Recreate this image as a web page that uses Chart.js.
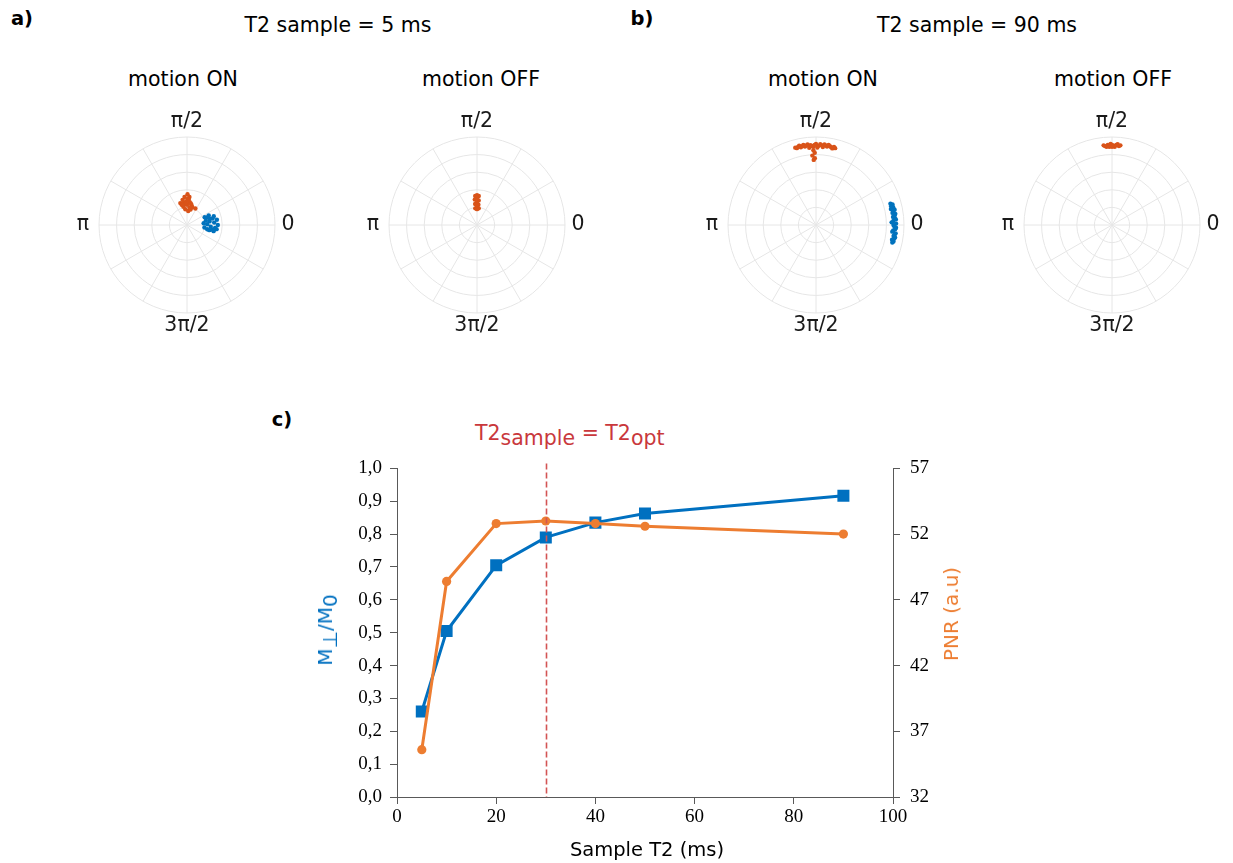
<!DOCTYPE html>
<html>
<head>
<meta charset="utf-8">
<script src="https://cdn.jsdelivr.net/npm/chart.js@4.4.1/dist/chart.umd.min.js"></script>
<style>
  body { margin: 0; width: 1233px; height: 863px; background: #fff; position: relative; overflow: hidden;
         font-family: "DejaVu Sans", sans-serif; color: #000; }
  .t { position: absolute; white-space: nowrap; font-size: 20.5px; line-height: 1; transform: translate(-50%, -50%); }
  .bold { font-weight: bold; font-size: 19.5px; }
  .rot { transform: translate(-50%, -50%) rotate(-90deg); }
  .sub { position: relative; top: 4.5px; }
  canvas { position: absolute; }
</style>
</head>
<body>

<div class="t bold" style="left:22px;top:19px">a)</div>
<div class="t" style="left:338px;top:25px">T2 sample = 5 ms</div>
<div class="t bold" style="left:642px;top:19px">b)</div>
<div class="t" style="left:977px;top:25px">T2 sample = 90 ms</div>

<div class="t" style="left:183px;top:79px">motion ON</div>
<div class="t" style="left:481px;top:79px">motion OFF</div>
<div class="t" style="left:823px;top:79px">motion ON</div>
<div class="t" style="left:1113px;top:79px">motion OFF</div>

<canvas id="polarA1" width="260" height="260" style="left:57px;top:95px"></canvas>
<canvas id="polarA2" width="260" height="260" style="left:347px;top:95px"></canvas>
<canvas id="polarB1" width="260" height="260" style="left:686px;top:95px"></canvas>
<canvas id="polarB2" width="260" height="260" style="left:982px;top:95px"></canvas>

<div class="t bold" style="left:282px;top:420px">c)</div>
<div style="position:absolute;left:475px;top:423px;font-size:20.5px;line-height:1;color:#c9383c;white-space:nowrap">T2<span class="sub">sample</span> = T2<span class="sub">opt</span></div>

<canvas id="mainChart" width="630" height="416" style="left:330px;top:447px"></canvas>

<div class="t rot" style="left:325px;top:630px;color:#0070C0;font-size:20px">M<span class="sub">⊥</span>/M<span class="sub">0</span></div>
<div class="t rot" style="left:951px;top:614px;color:#ED7D31;font-size:20px">PNR (a.u)</div>
<div class="t" style="left:647px;top:850px;font-size:19.5px">Sample T2 (ms)</div>

<script>
// ---- polar panels: [phase in degrees, magnitude M/M0] ----
const aOnOrange = [[89, 0.35], [95, 0.32], [85, 0.32], [100, 0.29], [86, 0.29], [107, 0.26], [99, 0.26],
  [83, 0.26], [105, 0.24], [90, 0.23], [77, 0.23], [63, 0.21], [73, 0.21], [85, 0.16], [96, 0.18],
  [77, 0.18], [101, 0.21], [92, 0.27], [80, 0.25], [88, 0.3], [94, 0.24], [103, 0.23], [82, 0.2]];
const aOnBlue = [[24, 0.22], [24, 0.27], [18, 0.32], [10, 0.345], [0, 0.35], [-8, 0.34], [-13, 0.31],
  [-13, 0.26], [-8, 0.2], [6, 0.19], [13, 0.22], [9, 0.26], [-4, 0.27], [5, 0.31], [14, 0.3], [-12, 0.235],
  [20, 0.25], [-10, 0.29], [2, 0.23], [16, 0.27], [-6, 0.32]];
const aOffOrange = [[90, 0.34], [93.5, 0.33], [86.5, 0.33], [90, 0.31], [95, 0.29], [86, 0.28], [90, 0.26],
  [95, 0.24], [86, 0.23], [90, 0.21], [96, 0.19], [84, 0.19], [90, 0.18]];
const aOffBlue = [];
const bOnOrange = [[104, 0.9], [102, 0.92], [100, 0.91], [98, 0.9], [96, 0.92], [94, 0.91], [92, 0.89],
  [90, 0.92], [88, 0.9], [86, 0.91], [84, 0.92], [82, 0.9], [80, 0.91], [78, 0.89], [76, 0.9], [95, 0.88],
  [89, 0.88], [85, 0.89], [92, 0.85], [91, 0.82], [93, 0.79], [91, 0.76], [92, 0.74],
  [103, 0.91], [101, 0.9], [99, 0.92], [97, 0.91], [93, 0.9], [91, 0.91], [87, 0.92], [83, 0.91],
  [81, 0.92], [79, 0.9], [77, 0.91], [105, 0.91]];
const bOnBlue = [[16, 0.88], [13, 0.9], [10, 0.89], [8, 0.91], [5, 0.9], [3, 0.88], [1, 0.91], [-1, 0.89],
  [-3, 0.9], [-6, 0.91], [-8, 0.89], [-10, 0.9], [-12, 0.9], [2, 0.86], [-5, 0.87], [12, 0.87],
  [15, 0.9], [14, 0.88], [11, 0.91], [9, 0.88], [7, 0.9], [6, 0.88], [4, 0.91], [0, 0.88], [-2, 0.91],
  [-4, 0.88], [-7, 0.9], [-9, 0.91], [-11, 0.88], [-13, 0.89]];
const bOffOrange = [[95, 0.9], [93, 0.91], [91, 0.92], [89, 0.9], [87, 0.91], [85, 0.9], [92, 0.89],
  [88, 0.89], [90, 0.91], [94, 0.89], [86, 0.92], [96, 0.91], [84, 0.91], [90, 0.89]];
const bOffBlue = [];

const polarRings = [0.2, 0.4, 0.6, 0.8, 1.0];
const polarSpokes = [0, 30, 60, 90, 120, 150, 180, 210, 240, 270, 300, 330];

// ---- panel c ----
const sampleT2 = [5, 10, 20, 30, 40, 50, 90];
const mRatio = [0.26, 0.505, 0.705, 0.79, 0.835, 0.863, 0.917];
const pnr = [35.6, 48.4, 52.8, 53.0, 52.8, 52.6, 52.0];
const t2Opt = 30;

const toXY = pts => pts.map(([deg, r]) => ({
  x: r * Math.cos(deg * Math.PI / 180),
  y: r * Math.sin(deg * Math.PI / 180)
}));

const polarGrid = {
  id: 'polarGrid',
  beforeDatasetsDraw(chart) {
    const { ctx, scales: { x, y } } = chart;
    const cx = x.getPixelForValue(0), cy = y.getPixelForValue(0);
    ctx.save();
    ctx.strokeStyle = '#e6e6e6';
    ctx.lineWidth = 1;
    polarRings.forEach(r => {
      ctx.beginPath();
      ctx.arc(cx, cy, x.getPixelForValue(r) - cx, 0, Math.PI * 2);
      ctx.stroke();
    });
    polarSpokes.forEach(a => {
      const t = a * Math.PI / 180;
      ctx.beginPath();
      ctx.moveTo(cx, cy);
      ctx.lineTo(x.getPixelForValue(Math.cos(t)), y.getPixelForValue(Math.sin(t)));
      ctx.stroke();
    });
    const R = x.getPixelForValue(1) - cx;
    ctx.fillStyle = '#1a1a1a';
    ctx.font = '20.5px "DejaVu Sans"';
    ctx.textAlign = 'center';
    ctx.textBaseline = 'middle';
    ctx.fillText('0', cx + R + 13, cy);
    ctx.fillText('π/2', cx, cy - R - 15);
    ctx.fillText('π', cx - R - 16, cy);
    ctx.fillText('3π/2', cx, cy + R + 13);
    ctx.restore();
  }
};

const makePolar = (id, blue, orange) => new Chart(document.getElementById(id), {
  type: 'scatter',
  data: {
    datasets: [
      { data: toXY(orange), backgroundColor: '#D95319', borderWidth: 0, pointRadius: 2.2 },
      { data: toXY(blue), backgroundColor: '#0072BD', borderWidth: 0, pointRadius: 2.2 }
    ]
  },
  options: {
    responsive: false,
    animation: false,
    layout: { padding: 42 },
    scales: {
      x: { type: 'linear', min: -1, max: 1, display: false },
      y: { type: 'linear', min: -1, max: 1, display: false }
    },
    plugins: { legend: { display: false }, tooltip: { enabled: false } }
  },
  plugins: [polarGrid]
});

makePolar('polarA1', aOnBlue, aOnOrange);
makePolar('polarA2', aOffBlue, aOffOrange);
makePolar('polarB1', bOnBlue, bOnOrange);
makePolar('polarB2', bOffBlue, bOffOrange);

// dashed marker at the optimal T2
const optLine = {
  id: 'optLine',
  afterDatasetsDraw(chart) {
    const { ctx, chartArea, scales: { x } } = chart;
    const px = Math.round(x.getPixelForValue(t2Opt)) + 0.5;
    ctx.save();
    ctx.strokeStyle = '#d35454';
    ctx.lineWidth = 1.6;
    ctx.setLineDash([6, 3]);
    ctx.beginPath();
    ctx.moveTo(px, chartArea.top - 5);
    ctx.lineTo(px, chartArea.bottom);
    ctx.stroke();
    ctx.restore();
  }
};

const axisColor = '#595959';
const tickFont = { family: '"Liberation Serif", "Times New Roman", serif', size: 19 };

new Chart(document.getElementById('mainChart'), {
  type: 'line',
  data: {
    datasets: [
      {
        label: 'PNR',
        data: sampleT2.map((x, i) => ({ x, y: pnr[i] })),
        yAxisID: 'y1',
        borderColor: '#ED7D31',
        backgroundColor: '#ED7D31',
        borderWidth: 3,
        pointStyle: 'circle',
        pointRadius: 4.6,
        pointBorderWidth: 0
      },
      {
        label: 'M/M0',
        data: sampleT2.map((x, i) => ({ x, y: mRatio[i] })),
        yAxisID: 'y',
        borderColor: '#0070C0',
        backgroundColor: '#0070C0',
        borderWidth: 3,
        pointStyle: 'rect',
        pointRadius: 8.5,
        pointBorderWidth: 0
      }
    ]
  },
  options: {
    responsive: false,
    animation: false,
    layout: { padding: { left: 7, right: 7, top: 20, bottom: 6 } },
    scales: {
      x: {
        type: 'linear', min: 0, max: 100,
        ticks: { stepSize: 20, font: tickFont, color: '#000', padding: 2 },
        grid: { drawOnChartArea: false, tickLength: 7, color: axisColor },
        border: { color: axisColor },
        afterFit: s => { s.height = 60; }
      },
      y: {
        position: 'left', min: 0, max: 1,
        ticks: { stepSize: 0.1, font: tickFont, color: '#000', padding: 8,
                 callback: v => v.toFixed(1).replace('.', ',') },
        grid: { drawOnChartArea: false, tickLength: 7, color: axisColor },
        border: { color: axisColor },
        afterFit: s => { s.width = 60; }
      },
      y1: {
        position: 'right', min: 32, max: 57,
        ticks: { stepSize: 5, font: tickFont, color: '#000', padding: 10 },
        grid: { drawOnChartArea: false, tickLength: 7, color: axisColor },
        border: { color: axisColor },
        afterFit: s => { s.width = 60; }
      }
    },
    plugins: { legend: { display: false }, tooltip: { enabled: false } }
  },
  plugins: [optLine]
});
</script>
</body>
</html>
